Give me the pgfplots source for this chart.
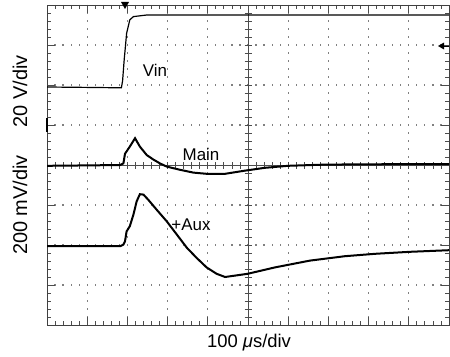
\documentclass[border=0pt]{standalone}
\usepackage{pgfplots}
\pgfplotsset{compat=1.18}
\usepackage{fontspec}
\setmainfont{Liberation Sans}
\begin{document}
\begin{tikzpicture}[x=1bp,y=1bp]
\useasboundingbox (-47,-31) rectangle (403,325);
% dotted graticule
\foreach \i in {1,2,3,4,6,7,8,9}{
  \foreach \j in {1,...,39}{
    \fill[black!50] (\i*40.2-0.6,\j*8-0.6) rectangle ++(1.2,1.2);
  }
}
\foreach \j in {1,2,3,5,6,7}{
  \foreach \i in {1,...,49}{
    \fill[black!50] (\i*8.04-0.6,\j*40-0.6) rectangle ++(1.2,1.2);
  }
}
% centre lines with ticks
\begin{scope}[black!70,line width=0.8bp]
\draw (201,0) -- (201,320);
\draw (0,160) -- (402,160);
\foreach \j in {1,...,39} \draw (197.5,\j*8) -- (204.5,\j*8);
\foreach \i in {1,...,49} \draw (\i*8.04,156.5) -- (\i*8.04,163.5);
% border ticks
\foreach \i in {1,...,49} {\draw (\i*8.04,0) -- (\i*8.04,4); \draw (\i*8.04,320) -- (\i*8.04,316);}
\foreach \j in {1,...,39} {\draw (0,\j*8) -- (4,\j*8); \draw (402,\j*8) -- (398,\j*8);}
\foreach \i in {1,...,9} {\draw (\i*40.2,0) -- (\i*40.2,8); \draw (\i*40.2,320) -- (\i*40.2,312);}
\foreach \j in {1,...,7} {\draw (0,\j*40) -- (8,\j*40); \draw (402,\j*40) -- (394,\j*40);}
\end{scope}
\begin{axis}[at={(0,0)},anchor=south west,width=402bp,height=320bp,scale only axis,
  xmin=0,xmax=10,ymin=0,ymax=8,xtick=\empty,ytick=\empty,
  axis line style={black!75,line width=0.9bp}]
% Vin
\addplot[black,line width=1.2bp] coordinates {
(0,5.95) (1.0,5.94) (1.85,5.93) (1.88,6.1) (1.92,6.63) (1.98,7.29) (2.06,7.63)
(2.15,7.71) (2.48,7.75) (5,7.75) (10,7.75)};
% Main
\addplot[black,line width=2bp] coordinates {
(0,3.98) (1.0,3.99) (1.82,4.0) (1.90,4.04) (1.94,4.28) (2.06,4.46) (2.19,4.67)
(2.31,4.46) (2.48,4.25) (2.64,4.14) (2.81,4.04) (2.98,3.96) (3.31,3.88)
(3.64,3.81) (3.97,3.78) (4.43,3.78) (4.93,3.86) (5.42,3.93) (6.0,3.98)
(6.92,4.01) (8.5,4.02) (10,4.02)};
% +Aux
\addplot[black,line width=2bp] coordinates {
(0,1.97) (1.0,1.97) (1.82,1.97) (1.90,2.01) (1.94,2.09) (1.98,2.34) (2.06,2.47)
(2.15,2.76) (2.23,3.09) (2.31,3.27) (2.40,3.26) (2.52,3.13) (2.73,2.88)
(2.98,2.59) (3.23,2.26) (3.48,1.93) (3.72,1.68) (3.97,1.44) (4.22,1.28)
(4.43,1.20) (4.99,1.28) (5.67,1.44) (6.54,1.61) (7.41,1.72) (8.16,1.78)
(9.03,1.83) (10,1.87)};
\end{axis}
% markers
\fill[black] (74,323) -- (82,323) -- (78,316) -- cycle;
\fill[black] (391,279) -- (397,282.5) -- (397,275.5) -- cycle;
\draw[black,line width=0.8bp] (397,279) -- (402,279);
\draw[black,line width=1.6bp] (0,193) -- (0,207);
% labels
\begin{scope}[font=\fontsize{17}{20}\selectfont]
\node at (108,255) {Vin};
\node at (154,170.5) {Main};
\node at (144,100.5) {+Aux};
\end{scope}
\node[anchor=base,font=\fontsize{18.5}{22}\selectfont] at (202,-22) {100 \textit{μ}s/div};
\node[rotate=90,font=\fontsize{20}{24}\selectfont] at (-27,233.5) {20 V/div};
\node[rotate=90,font=\fontsize{20}{24}\selectfont] at (-27,120) {200 mV/div};
\end{tikzpicture}
\end{document}
